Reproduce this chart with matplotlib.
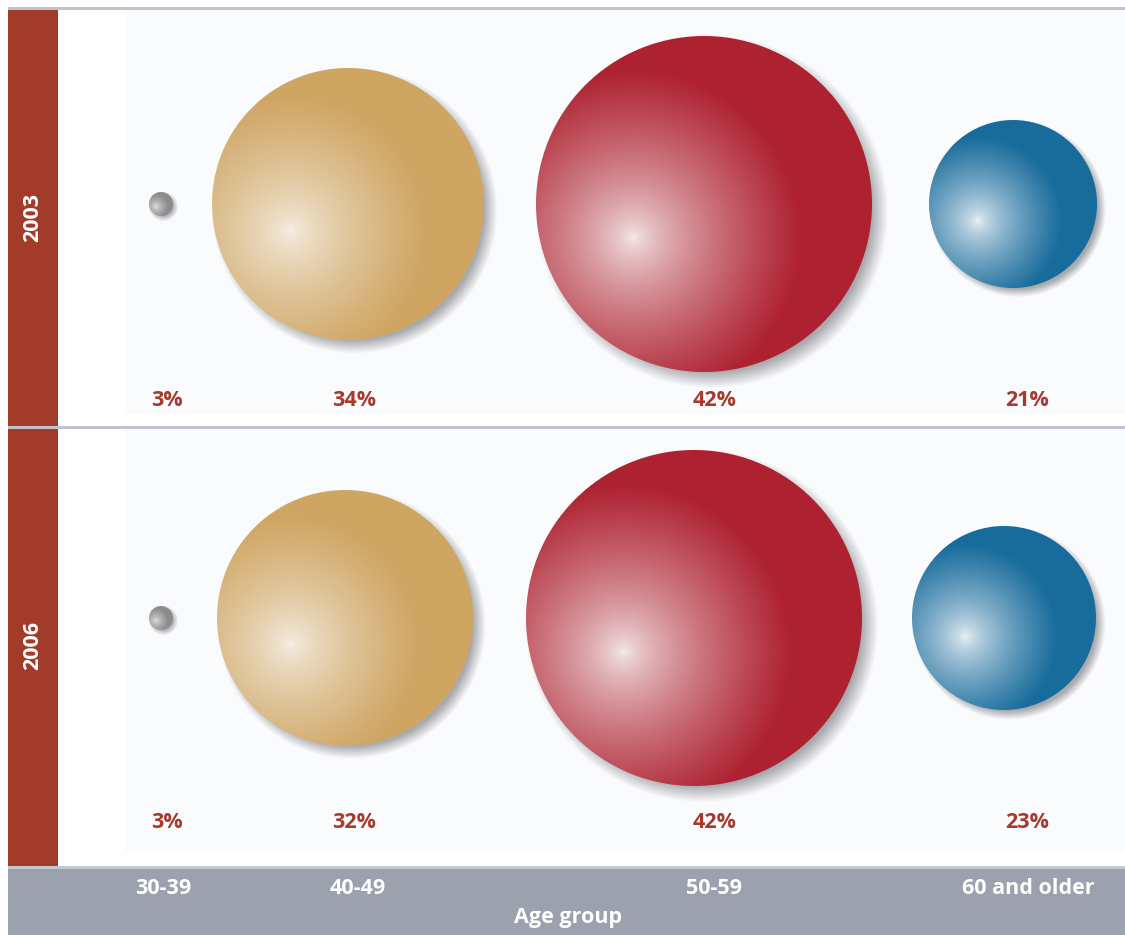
import numpy as np
import matplotlib
matplotlib.use("Agg")
import matplotlib.pyplot as plt
from matplotlib.colors import to_rgb

# ---- data ----
categories = ["30-39", "40-49", "50-59", "60 and older"]
years = ["2003", "2006"]
values_2003 = [3, 34, 42, 21]
values_2006 = [3, 32, 42, 23]
xlabel = "Age group"

# ---- style / layout ----
sphere_colors = ["#8c8c8e", "#cfa562", "#ae2130", "#186c9c"]
highlight_colors = ["#e4e2e0", "#f6f0e6", "#f5eded", "#eef3f7"]
col_x = [163, 358, 714, 1028]          # column centres (px)
label_x = [167, 354, 715, 1027]
panel_shift = {"2003": [-2, -10, -10, -15], "2006": [-2, -13, -20, -24]}
panel_cy = {"2003": 204, "2006": 618}
panel_label_y = {"2003": 400, "2006": 822}
px_per_pct = 4.0
text_red = "#a63a2c"
bar_red = "#a33b2b"
band_gray = "#9ba1ad"
line_gray = "#bfc3cb"
light_bg = "#fafbfd"

plt.rcParams["font.family"] = ["Open Sans", "DejaVu Sans"]

W, H = 1125, 935
fig = plt.figure(figsize=(W / 100, H / 100), dpi=100)
ax = fig.add_axes([0, 0, 1, 1])
ax.set_xlim(0, W)
ax.set_ylim(H, 0)
ax.axis("off")

# backgrounds
ax.add_patch(plt.Rectangle((125, 10), W - 125, 404, color=light_bg, lw=0, zorder=0))
ax.add_patch(plt.Rectangle((125, 429), W - 125, 423, color=light_bg, lw=0, zorder=0))
ax.add_patch(plt.Rectangle((8, 8), 50, 860, color=bar_red, lw=0, zorder=1))
ax.add_patch(plt.Rectangle((8, 7), W - 8, 3, color=line_gray, lw=0, zorder=2))
ax.add_patch(plt.Rectangle((8, 426), W - 8, 3, color=line_gray, lw=0, zorder=2))
ax.add_patch(plt.Rectangle((8, 867), W - 8, 68, color=band_gray, lw=0, zorder=2))
ax.add_patch(plt.Rectangle((8, 866), W - 8, 2.5, color="#c3c7ce", lw=0, zorder=2))


def sphere(cx, cy, r, base, hi):
    base = np.array(to_rgb(base))
    hi = np.array(to_rgb(hi))
    pad = int(max(8, 0.08 * r)) + 6
    x0, x1 = int(cx - r - pad), int(cx + r + pad + 6)
    y0, y1 = int(cy - r - pad), int(cy + r + pad + 6)
    X, Y = np.meshgrid(np.arange(x0, x1) + 0.5, np.arange(y0, y1) + 0.5)
    # shadow
    off = 2 + 0.035 * r
    ds = np.hypot(X - (cx + off), Y - (cy + off))
    blur = max(3.0, 0.05 * r)
    sh = 0.5 * np.clip((r - ds) / (2 * blur) + 0.5, 0, 1)
    shc = np.array([0.35, 0.35, 0.38])
    # sphere body
    d = np.hypot(X - cx, Y - cy)
    mask = np.clip(r - d + 0.5, 0, 1)
    hx, hy = cx - 0.42 * r, cy + 0.2 * r
    t = np.clip(np.hypot(X - hx, Y - hy) / (1.0 * r), 0, 1) ** 0.7
    col = hi[None, None, :] * (1 - t[..., None]) + base[None, None, :] * t[..., None]
    a = mask + sh * (1 - mask)
    rgb = (col * mask[..., None] + shc * (sh * (1 - mask))[..., None]) / np.maximum(a, 1e-6)[..., None]
    img = np.dstack([np.clip(rgb, 0, 1), a])
    ax.imshow(img, extent=(x0, x1, y1, y0), origin="upper", zorder=3, interpolation="bilinear")


for yr, vals in zip(years, [values_2003, values_2006]):
    cy = panel_cy[yr]
    for i, v in enumerate(vals):
        sphere(col_x[i] + panel_shift[yr][i], cy, v * px_per_pct, sphere_colors[i], highlight_colors[i])
        ax.text(label_x[i], panel_label_y[yr], f"{v}%", color=text_red, fontsize=15.5,
                fontweight="bold", ha="center", va="center", zorder=5)

# year labels
ax.text(33, 217, years[0], rotation=90, color="white", fontsize=15.5, fontweight="bold",
        ha="center", va="center", zorder=5)
ax.text(33, 646, years[1], rotation=90, color="white", fontsize=15.5, fontweight="bold",
        ha="center", va="center", zorder=5)

for x, c in zip(col_x, categories):
    ax.text(x, 889, c, color="white", fontsize=15.5, fontweight="bold", ha="center", va="center", zorder=5)
ax.text(568, 917, xlabel, color="white", fontsize=15.5, fontweight="bold", ha="center", va="center", zorder=5)

fig.savefig("out.png", dpi=100)
